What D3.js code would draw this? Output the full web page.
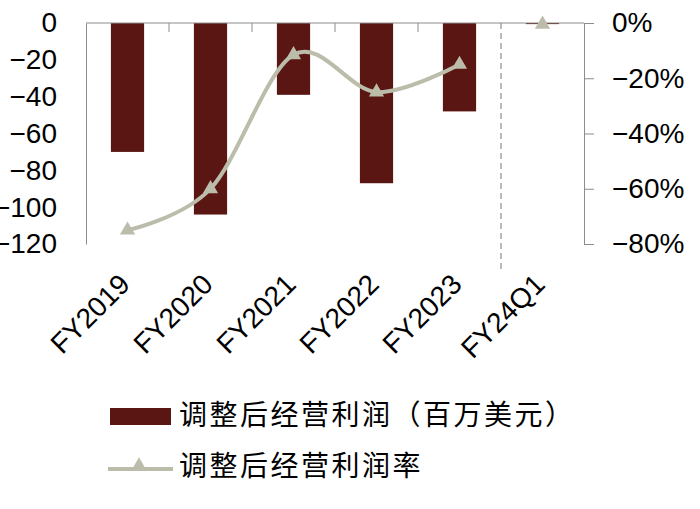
<!DOCTYPE html>
<html>
<head>
<meta charset="utf-8">
<script src="https://cdn.jsdelivr.net/npm/d3@7"></script>
<style>
  body { margin: 0; background: #fff; }
  svg text { font-family: "Liberation Sans", Arial, sans-serif; }
</style>
</head>
<body>
<div id="chart"></div>
<script>
// data
var categories = ["FY2019", "FY2020", "FY2021", "FY2022", "FY2023", "FY24Q1"];
var profit = [-70, -104, -39, -87, -48, -0.6];          // 调整后经营利润（百万美元）
var margin = [-0.75, -0.60, -0.115, -0.25, -0.15, -0.005]; // 调整后经营利润率
var leftTicks = [0, -20, -40, -60, -80, -100, -120];
var rightTicks = [0, -0.2, -0.4, -0.6, -0.8];
var barName = "调整后经营利润（百万美元）";
var lineName = "调整后经营利润率";

var W = 700, H = 509;
var barColor = "#5a1612";
var lineColor = "#bcbcab";
var axisColor = "#8c8c8c";
var fs = 28;

var svg = d3.select("#chart").append("svg")
  .attr("width", W)
  .attr("height", H);

var x = d3.scaleBand().domain(categories).range([86, 584]);
var y = d3.scaleLinear().domain([-120, 0]).range([244, 23]);
var y2 = d3.scaleLinear().domain([-0.8, 0]).range([244, 23]);
var bw = x.step() * 0.4;

// bars
svg.selectAll("rect.bar")
  .data(profit)
  .enter()
  .append("rect")
  .attr("class", "bar")
  .attr("x", function (d, i) { return x(categories[i]) + (x.step() - bw) / 2; })
  .attr("y", y(0))
  .attr("width", bw)
  .attr("height", function (d) { return y(d) - y(0); })
  .attr("fill", barColor);

// left axis (no ticks)
var leftAxis = svg.append("g")
  .attr("transform", "translate(86,0)")
  .call(d3.axisLeft(y).tickValues(leftTicks).tickSize(0).tickPadding(29));
leftAxis.select(".domain").attr("stroke", axisColor);
leftAxis.selectAll("text").attr("font-size", fs).attr("fill", "#000");

// right axis
var rightAxis = svg.append("g")
  .attr("transform", "translate(584,0)")
  .call(d3.axisRight(y2).tickValues(rightTicks).tickSize(10).tickSizeOuter(0).tickPadding(18)
    .tickFormat(d3.format(".0%")));
rightAxis.select(".domain").attr("stroke", axisColor);
rightAxis.selectAll("line").attr("stroke", axisColor);
rightAxis.selectAll("text").attr("font-size", fs).attr("fill", "#000");

// category axis at zero
var catAxis = svg.append("g").attr("transform", "translate(0," + y(0) + ")");
catAxis.append("line")
  .attr("x1", 86).attr("x2", 584)
  .attr("stroke", axisColor);
catAxis.selectAll("line.tick")
  .data(categories.slice(1, 5))
  .enter()
  .append("line")
  .attr("class", "tick")
  .attr("x1", function (d) { return x(d); })
  .attr("x2", function (d) { return x(d); })
  .attr("y1", 0).attr("y2", 9)
  .attr("stroke", axisColor);

// dashed divider before the quarter
svg.append("line")
  .attr("x1", x("FY24Q1")).attr("x2", x("FY24Q1"))
  .attr("y1", y(0)).attr("y2", 270)
  .attr("stroke", "#8c8c8c")
  .attr("stroke-width", 1.2)
  .attr("stroke-dasharray", "6,4");

// rotated category labels
svg.selectAll("text.cat")
  .data(categories)
  .enter()
  .append("text")
  .attr("class", "cat")
  .attr("transform", function (d) {
    return "translate(" + (x(d) + x.step() / 2 + 4) + ",286) rotate(-45)";
  })
  .attr("text-anchor", "end")
  .attr("font-size", fs)
  .text(function (d) { return d; });

// smoothed margin line (annual values only)
var cx = function (d, i) { return x(categories[i]) + x.step() / 2; };
var line = d3.line()
  .x(cx)
  .y(function (d) { return y2(d); })
  .curve(d3.curveCardinal.tension(0));
svg.append("path")
  .datum(margin.slice(0, 5))
  .attr("d", line)
  .attr("fill", "none")
  .attr("stroke", lineColor)
  .attr("stroke-width", 4);

var tri = d3.symbol().type(d3.symbolTriangle).size(100);
svg.selectAll("path.marker")
  .data(margin)
  .enter()
  .append("path")
  .attr("class", "marker")
  .attr("d", tri)
  .attr("transform", function (d, i) { return "translate(" + cx(d, i) + "," + y2(d) + ")"; })
  .attr("fill", lineColor);

// legend
var leg = svg.append("g");
leg.append("rect")
  .attr("x", 110).attr("y", 408)
  .attr("width", 61).attr("height", 17)
  .attr("fill", barColor);
leg.append("text")
  .attr("x", 179).attr("y", 415)
  .attr("dy", "0.36em")
  .attr("font-size", fs)
  .attr("letter-spacing", 2.5)
  .style("font-family", "'Noto Sans CJK SC', sans-serif")
  .text(barName);
leg.append("line")
  .attr("x1", 108).attr("x2", 173)
  .attr("y1", 469).attr("y2", 469)
  .attr("stroke", lineColor)
  .attr("stroke-width", 4);
leg.append("path")
  .attr("d", tri)
  .attr("transform", "translate(139,466)")
  .attr("fill", lineColor);
leg.append("text")
  .attr("x", 179).attr("y", 466)
  .attr("dy", "0.36em")
  .attr("font-size", fs)
  .attr("letter-spacing", 2.5)
  .style("font-family", "'Noto Sans CJK SC', sans-serif")
  .text(lineName);
</script>
</body>
</html>
